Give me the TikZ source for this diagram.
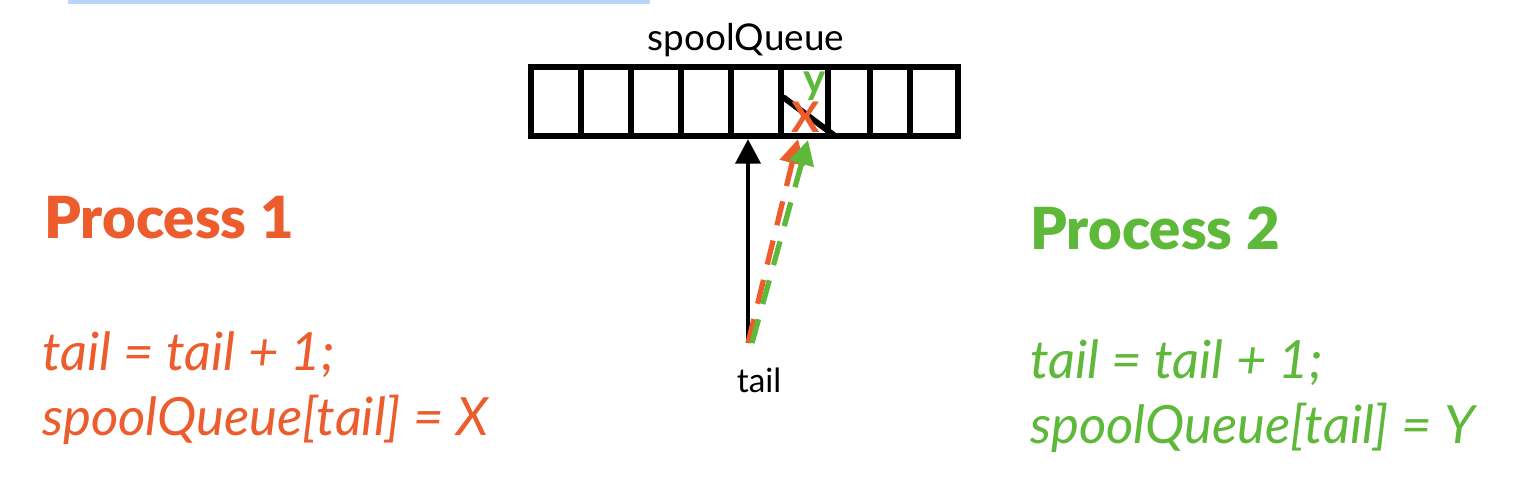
\documentclass[tikz,border=0pt]{standalone}
\usepackage{fontspec}
\setmainfont{Lato}
\newfontfamily\heavyfont{Lato Black}
\usepackage{tikz}
\usetikzlibrary{arrows.meta,calc,positioning}

\definecolor{procorange}{RGB}{236,92,44}
\definecolor{procgreen}{RGB}{94,184,58}
\definecolor{barblue}{RGB}{184,214,250}

\tikzset{
  queueline/.style={line width=3.4pt},
  ptr/.style={line width=2.8pt,-{Triangle[length=14pt,width=14pt]}},
  dashptr/.style={ptr,line width=3pt,dash pattern=on 14pt off 9pt},
  codetext/.style={anchor=west,align=left,font=\fontsize{30}{37}\selectfont\itshape},
  proctitle/.style={anchor=west,font=\fontsize{33}{38}\selectfont\heavyfont},
  slotmark/.style={inner sep=0pt,font=\fontsize{24}{24}\selectfont\bfseries}
}

\begin{document}
\begin{tikzpicture}[x=0.02cm,y=-0.02cm]
\useasboundingbox (0,0) rectangle (1520,480);
\fill[barblue] (68,0) rectangle (650,4);

\node (qname) at (746,40) {\fontsize{21}{24}\selectfont spoolQueue};
\draw[queueline] (531,67) rectangle (958,136);
\foreach \x in {581,631,681,731,781,828,870,910}
  \draw[queueline] (\x,67) -- (\x,136);
\draw[queueline] (783,97) -- (835,136);

\node[slotmark,procorange] (xval) at (806,117) {X};
\node[slotmark,procgreen] (yval) at (815,86) {y};

\node (tail) at (759,380) {\fontsize{19}{22}\selectfont tail};
\coordinate (tailtop) at (748,343);
\coordinate (slot) at (748,139);
\coordinate (xslot) at (798,139);
\coordinate (yslot) at (808,140);

\draw[ptr] (tailtop) -- (slot);
\draw[dashptr,procorange] (tailtop) -- (xslot);
\draw[dashptr,procgreen] ($(tailtop)+(4,0)$) -- (yslot);

\node[proctitle,procorange] (p1) at (38,218) {Process 1};
\node[codetext,procorange] (c1) at (36,388) {tail = tail + 1;\\spoolQueue[tail] = X};

\node[proctitle,procgreen] (p2) at (1024,228) {Process 2};
\node[codetext,procgreen] (c2) at (1024,396) {tail = tail + 1;\\spoolQueue[tail] = Y};
\end{tikzpicture}
\end{document}
